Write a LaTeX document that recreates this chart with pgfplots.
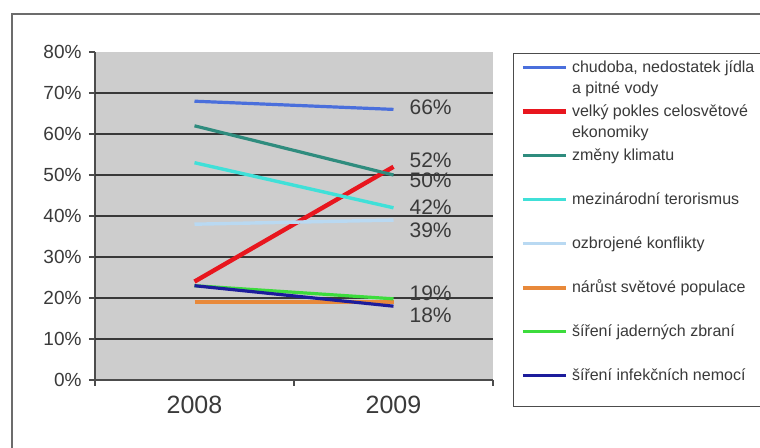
\documentclass[border=0pt]{standalone}
\usepackage{pgfplots}
\pgfplotsset{compat=1.18}
\usepackage{fontspec}
\setmainfont{Liberation Sans}
\definecolor{cA}{HTML}{4A6FDC}
\definecolor{cB}{HTML}{E8161E}
\definecolor{cC}{HTML}{2F8C7E}
\definecolor{cD}{HTML}{40E0D8}
\definecolor{cE}{HTML}{B9D9F2}
\definecolor{cF}{HTML}{E8893A}
\definecolor{cG}{HTML}{3CDC3C}
\definecolor{cH}{HTML}{1C1C9C}
\definecolor{bggray}{HTML}{CDCDCD}
\definecolor{txt}{HTML}{3A3A3A}
\begin{document}
\begin{tikzpicture}
\useasboundingbox (0,0) rectangle (760bp,448bp);
\clip (0,0) rectangle (760bp,448bp);
\fill[white] (0,0) rectangle (760bp,448bp);
\draw[color=gray!85!black, line width=1.5bp] (12bp,-10bp) -- (12bp,434bp) -- (790bp,434bp);
\begin{axis}[
  at={(95bp,68bp)}, anchor=south west,
  scale only axis, width=398bp, height=328bp,
  xmin=0.5, xmax=2.5, ymin=0, ymax=80,
  clip=false,
  axis background/.style={fill=bggray},
  axis x line*=bottom, axis y line*=left,
  axis line style={-, color=black!70, line width=1.5bp},
  tick style={color=black!70, line width=1.2bp},
  tick align=outside, major tick length=6bp,
  xtick={0.5,1.5,2.5}, xticklabels={2008,2009},
  x tick label as interval,
  xticklabel style={font=\fontsize{25bp}{30bp}\selectfont, text=txt, yshift=-7bp},
  ytick={0,10,...,80},
  yticklabels={0\%,10\%,20\%,30\%,40\%,50\%,60\%,70\%,80\%},
  yticklabel style={font=\fontsize{19bp}{22bp}\selectfont, text=txt, xshift=-4bp},
  extra y ticks={10,20,...,70}, extra y tick labels={},
  extra y tick style={ymajorgrids=true, major tick length=0bp},
  grid style={color=black!78, line width=1.3bp},
  legend image code/.code={\draw[#1,line cap=butt] (0bp,4.5bp) -- (43bp,4.5bp);},
  legend style={at={(axis description cs:1.0503,0.997)}, anchor=north west,
    draw=black!70, line width=1.3bp, fill=white,
    inner xsep=7bp, inner ysep=6.5bp, row sep=12bp, column sep=4bp,
    font=\fontsize{16bp}{21bp}\selectfont, text=txt,
    cells={anchor=base west},
    nodes={inner sep=0pt, text height=12bp, text depth=20bp}},
]
\addplot[cA, line width=3.2bp] coordinates {(1,68) (2,66)};
\addlegendentry{\parbox[t]{210bp}{chudoba, nedostatek jídla\\a pitné vody}}
\addplot[cB, line width=4.4bp] coordinates {(1,24) (2,52)};
\addlegendentry{\parbox[t]{210bp}{velký pokles celosvětové\\ekonomiky}}
\addplot[cC, line width=3.2bp] coordinates {(1,62) (2,50)};
\addlegendentry{\parbox[t]{210bp}{změny klimatu}}
\addplot[cD, line width=3.4bp] coordinates {(1,53) (2,42)};
\addlegendentry{\parbox[t]{210bp}{mezinárodní terorismus}}
\addplot[cE, line width=3.4bp] coordinates {(1,38) (2,39)};
\addlegendentry{\parbox[t]{210bp}{ozbrojené konflikty}}
\addplot[cF, line width=3.8bp] coordinates {(1,19) (2,19)};
\addlegendentry{\parbox[t]{210bp}{nárůst světové populace}}
\addplot[cG, line width=3.2bp] coordinates {(1,23) (2,19.8)};
\addlegendentry{\parbox[t]{210bp}{šíření jaderných zbraní}}
\addplot[cH, line width=3.2bp] coordinates {(1,23) (2,18)};
\addlegendentry{\parbox[t]{210bp}{šíření infekčních nemocí}}
\begin{scope}[every node/.style={anchor=west, font=\fontsize{21bp}{24bp}\selectfont, text=txt, inner sep=0pt}]
\node at (axis cs:2.08,66.6) {66\%};
\node at (axis cs:2.08,53.7) {52\%};
\node at (axis cs:2.08,48.8) {50\%};
\node at (axis cs:2.08,42.2) {42\%};
\node at (axis cs:2.08,36.6) {39\%};
\node at (axis cs:2.08,21.2) {19\%};
\node at (axis cs:2.08,15.9) {18\%};
\end{scope}
\end{axis}
\end{tikzpicture}
\end{document}
